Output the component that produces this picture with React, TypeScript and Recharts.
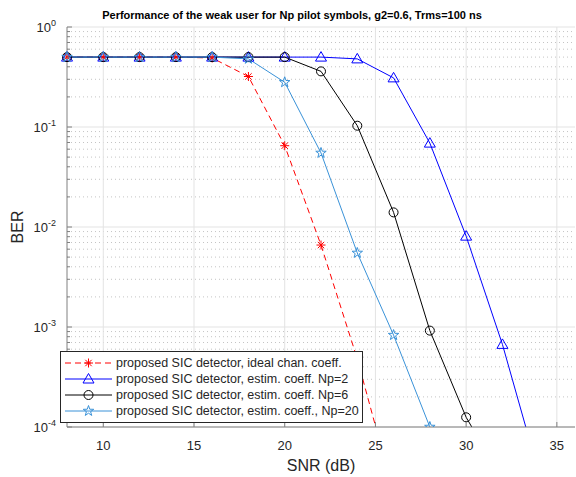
import React from "react";
import {
	LineChart,
	Line,
	XAxis,
	YAxis,
	CartesianGrid,
	Legend,
} from "recharts";

// SNR (dB) sample points and BER per detector variant
const SNR = [8, 10, 12, 14, 16, 18, 20, 22, 24, 26, 28, 30, 32, 34];
const BER_IDEAL = [0.5, 0.5, 0.5, 0.5, 0.49, 0.32, 0.065, 0.0066, 4.8e-4, 2.2e-5, null, null, null, null];
const BER_NP2 = [0.5, 0.5, 0.5, 0.5, 0.5, 0.5, 0.5, 0.5, 0.48, 0.31, 0.069, 0.0081, 6.7e-4, 3.5e-5];
const BER_NP6 = [0.5, 0.5, 0.5, 0.5, 0.5, 0.5, 0.5, 0.36, 0.103, 0.014, 9.2e-4, 1.25e-4, 3e-5, null];
const BER_NP20 = [0.5, 0.5, 0.5, 0.5, 0.5, 0.48, 0.28, 0.055, 0.0055, 8.3e-4, 1.0e-4, 1.2e-5, null, null];

const X_TICKS = [10, 15, 20, 25, 30, 35];
const Y_TICKS = [1e-4, 1e-3, 1e-2, 1e-1, 1];
const Y_MINOR = Y_TICKS.slice(0, -1).flatMap((d) =>
	[2, 3, 4, 5, 6, 7, 8, 9].map((k) => k * d)
);

const TITLE = "Performance of the weak user for Np pilot symbols, g2=0.6, Trms=100 ns";

const SERIES = [
	{ key: "ideal", label: "proposed SIC detector, ideal chan. coeff.", color: "#ff0000", marker: "asterisk", dash: "6 4" },
	{ key: "np2", label: "proposed SIC detector, estim. coeff. Np=2", color: "#0000ff", marker: "triangle" },
	{ key: "np6", label: "proposed SIC detector, estim. coeff. Np=6", color: "#000000", marker: "circle" },
	{ key: "np20", label: "proposed SIC detector, estim. coeff., Np=20", color: "#3a92d8", marker: "star" },
];

const data = SNR.map((snr, i) => ({
	snr,
	ideal: BER_IDEAL[i],
	np2: BER_NP2[i],
	np6: BER_NP6[i],
	np20: BER_NP20[i],
}));

const W = 576;
const H = 477;
const LEFT = 67;
const TOP = 27;
const RIGHT = 575;
const BOTTOM = 427;
const FONT = '"Liberation Sans", Arial, Helvetica, sans-serif';
const AXIS = "#808080";
const TEXT = "#262626";

function Marker({ type, x, y, color }) {
	if (type === "asterisk") {
		const r = 4.5;
		const d = 3.2;
		return (
			<g stroke={color} strokeWidth={1}>
				<line x1={x - r} y1={y} x2={x + r} y2={y} />
				<line x1={x} y1={y - r} x2={x} y2={y + r} />
				<line x1={x - d} y1={y - d} x2={x + d} y2={y + d} />
				<line x1={x - d} y1={y + d} x2={x + d} y2={y - d} />
			</g>
		);
	}
	if (type === "triangle") {
		const pts = `${x},${y - 5.5} ${x + 5.5},${y + 4} ${x - 5.5},${y + 4}`;
		return <polygon points={pts} fill="none" stroke={color} strokeWidth={1} />;
	}
	if (type === "circle") {
		return <circle cx={x} cy={y} r={4.5} fill="none" stroke={color} strokeWidth={1} />;
	}
	const pts = [];
	for (let i = 0; i < 10; i++) {
		const a = ((-90 + i * 36) * Math.PI) / 180;
		const r = i % 2 ? 2.2 : 5.5;
		pts.push(`${x + r * Math.cos(a)},${y + r * Math.sin(a)}`);
	}
	return <polygon points={pts.join(" ")} fill="none" stroke={color} strokeWidth={1} />;
}

const makeDot = (type, color) => (props) => {
	const { cx, cy, value, index } = props;
	if (value == null || cx == null || cy == null) return <g key={index} />;
	return (
		<g key={index}>
			<Marker type={type} x={cx} y={cy} color={color} />
		</g>
	);
};

function BottomTick({ x, payload }) {
	return (
		<g>
			<line x1={x} y1={BOTTOM} x2={x} y2={BOTTOM - 5} stroke={AXIS} />
			<text x={x} y={450} textAnchor="middle" fontSize={13} fill={TEXT} fontFamily={FONT}>
				{payload.value}
			</text>
		</g>
	);
}

function TopTick({ x }) {
	return <line x1={x} y1={TOP} x2={x} y2={TOP + 5} stroke={AXIS} />;
}

const isDecade = (v) => Y_TICKS.some((t) => Math.abs(t - v) / t < 1e-6);

function LeftTick({ y, payload }) {
	const major = isDecade(payload.value);
	const exp = Math.round(Math.log10(payload.value));
	return (
		<g>
			<line x1={LEFT} y1={y} x2={LEFT + (major ? 5 : 3)} y2={y} stroke={AXIS} />
			{major && (
				<text x={LEFT - 11} y={y + 5} textAnchor="end" fontSize={13} fill={TEXT} fontFamily={FONT}>
					<tspan>10</tspan>
					<tspan dy={-6} fontSize={9}>{exp}</tspan>
				</text>
			)}
		</g>
	);
}

function RightTick({ y, payload }) {
	const major = isDecade(payload.value);
	return <line x1={RIGHT} y1={y} x2={RIGHT - (major ? 5 : 3)} y2={y} stroke={AXIS} />;
}

function LegendBox() {
	return (
		<div
			style={{
				width: 301,
				height: 67,
				border: "1px solid #262626",
				background: "#fff",
				paddingTop: 3,
				boxSizing: "content-box",
				fontFamily: FONT,
			}}>
			{SERIES.map((s) => (
				<div key={s.key} style={{ display: "flex", alignItems: "center", height: 16 }}>
					<svg width={55} height={16} style={{ flex: "none" }}>
						<line x1={4} y1={8} x2={51} y2={8} stroke={s.color} strokeDasharray={s.dash} />
						<Marker type={s.marker} x={27.5} y={8} color={s.color} />
					</svg>
					<span style={{ fontSize: 12.5, color: TEXT, whiteSpace: "nowrap" }}>{s.label}</span>
				</div>
			))}
		</div>
	);
}

export default function App() {
	return (
		<div style={{ position: "absolute", left: 0, top: 0, width: W, height: H, background: "#fff", fontFamily: FONT }}>
			<LineChart
				width={W}
				height={H}
				data={data}
				margin={{ top: TOP, right: W - RIGHT, bottom: H - BOTTOM - 30, left: LEFT - 60 }}>
				<CartesianGrid
					horizontal
					vertical={false}
					horizontalValues={Y_MINOR}
					stroke="#c4c4c4"
					strokeDasharray="1 3"
				/>
				<CartesianGrid
					horizontalValues={Y_TICKS}
					verticalValues={X_TICKS}
					stroke="#e3e3e3"
				/>
				<XAxis
					dataKey="snr"
					type="number"
					domain={[8, 36]}
					ticks={X_TICKS}
					interval={0}
					height={30}
					tickLine={false}
					axisLine={{ stroke: AXIS }}
					tick={<BottomTick />}
				/>
				<XAxis
					xAxisId="top"
					orientation="top"
					dataKey="snr"
					type="number"
					domain={[8, 36]}
					ticks={X_TICKS}
					interval={0}
					height={0}
					tickLine={false}
					axisLine={{ stroke: AXIS }}
					tick={<TopTick />}
				/>
				<YAxis
					type="number"
					scale="log"
					domain={[1e-4, 1]}
					allowDataOverflow
					ticks={[...Y_TICKS, ...Y_MINOR]}
					interval={0}
					width={60}
					tickLine={false}
					axisLine={{ stroke: AXIS }}
					tick={<LeftTick />}
				/>
				<YAxis
					yAxisId="right"
					orientation="right"
					type="number"
					scale="log"
					domain={[1e-4, 1]}
					allowDataOverflow
					ticks={[...Y_TICKS, ...Y_MINOR]}
					interval={0}
					width={0}
					tickLine={false}
					axisLine={{ stroke: AXIS }}
					tick={<RightTick />}
				/>
				{SERIES.map((s) => (
					<Line
						key={s.key}
						dataKey={s.key}
						stroke={s.color}
						strokeWidth={1}
						strokeDasharray={s.dash}
						dot={makeDot(s.marker, s.color)}
						activeDot={false}
						isAnimationActive={false}
					/>
				))}
				<Legend
					layout="vertical"
					align="center"
					verticalAlign="middle"
					content={<LegendBox />}
					wrapperStyle={{ left: 60, top: 351, width: 303, height: 70 }}
				/>
			</LineChart>
			<div
				style={{
					position: "absolute",
					left: 292 - 250,
					width: 500,
					top: 9,
					textAlign: "center",
					fontSize: 11,
					fontWeight: "bold",
					color: "#000",
					whiteSpace: "nowrap",
				}}>
				{TITLE}
			</div>
			<div
				style={{
					position: "absolute",
					left: LEFT,
					width: RIGHT - LEFT,
					top: 457,
					textAlign: "center",
					fontSize: 16,
					color: TEXT,
				}}>
				SNR (dB)
			</div>
			<div
				style={{
					position: "absolute",
					left: 18 - 30,
					top: 227 - 10,
					width: 60,
					height: 20,
					lineHeight: "20px",
					textAlign: "center",
					fontSize: 16,
					color: TEXT,
					transform: "rotate(-90deg)",
				}}>
				BER
			</div>
		</div>
	);
}
